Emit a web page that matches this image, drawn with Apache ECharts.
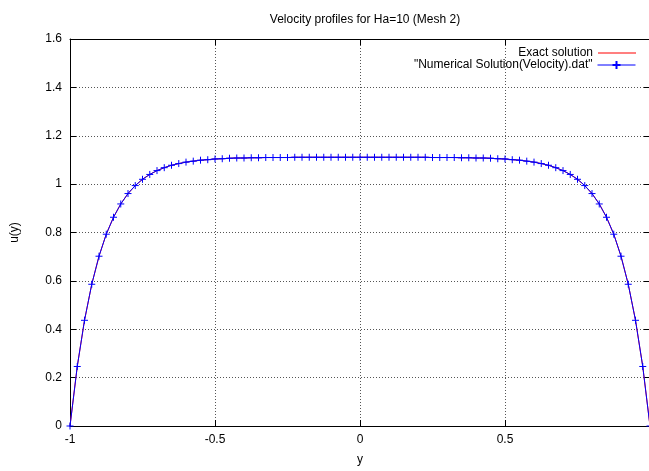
<!DOCTYPE html>
<html><head><meta charset="utf-8">
<script src="https://cdn.jsdelivr.net/npm/echarts@6/dist/echarts.min.js"></script>
<style>html,body{margin:0;padding:0;overflow:hidden;background:#fff;width:649px;height:471px}#c{width:660px;height:471px}</style>
</head><body><div id="c"></div>
<script>
const titleText = 'Velocity profiles for Ha=10 (Mesh 2)';
const yPos = [-1,-0.975,-0.95,-0.925,-0.9,-0.875,-0.85,-0.825,-0.8,-0.775,-0.75,-0.725,-0.7,-0.675,-0.65,-0.625,-0.6,-0.575,-0.55,-0.525,-0.5,-0.475,-0.45,-0.425,-0.4,-0.375,-0.35,-0.325,-0.3,-0.275,-0.25,-0.225,-0.2,-0.175,-0.15,-0.125,-0.1,-0.075,-0.05,-0.025,0,0.025,0.05,0.075,0.1,0.125,0.15,0.175,0.2,0.225,0.25,0.275,0.3,0.325,0.35,0.375,0.4,0.425,0.45,0.475,0.5,0.525,0.55,0.575,0.6,0.625,0.65,0.675,0.7,0.725,0.75,0.775,0.8,0.825,0.85,0.875,0.9,0.925,0.95,0.975,1];
const exactU = [0,0.246,0.437,0.586,0.702,0.793,0.863,0.918,0.961,0.994,1.020,1.040,1.056,1.068,1.078,1.085,1.091,1.095,1.099,1.101,1.104,1.105,1.107,1.108,1.108,1.109,1.109,1.110,1.110,1.110,1.110,1.111,1.111,1.111,1.111,1.111,1.111,1.111,1.111,1.111,1.111,1.111,1.111,1.111,1.111,1.111,1.111,1.111,1.111,1.111,1.110,1.110,1.110,1.110,1.109,1.109,1.108,1.108,1.107,1.105,1.104,1.101,1.099,1.095,1.091,1.085,1.078,1.068,1.056,1.040,1.020,0.994,0.961,0.918,0.863,0.793,0.702,0.586,0.437,0.246,0];
const numericalU = [0,0.246,0.437,0.586,0.702,0.793,0.863,0.918,0.961,0.994,1.020,1.040,1.056,1.068,1.078,1.085,1.091,1.095,1.099,1.101,1.104,1.105,1.107,1.108,1.108,1.109,1.109,1.110,1.110,1.110,1.110,1.111,1.111,1.111,1.111,1.111,1.111,1.111,1.111,1.111,1.111,1.111,1.111,1.111,1.111,1.111,1.111,1.111,1.111,1.111,1.110,1.110,1.110,1.110,1.109,1.109,1.108,1.108,1.107,1.105,1.104,1.101,1.099,1.095,1.091,1.085,1.078,1.068,1.056,1.040,1.020,0.994,0.961,0.918,0.863,0.793,0.702,0.586,0.437,0.246,0];
const xTicks = {min:-1, max:1, interval:0.5};
const yTicks = {min:0, max:1.6, interval:0.2};
const seriesNames = ['Exact solution', '"Numerical Solution(Velocity).dat"'];

const FONT = 'Liberation Sans, Arial, sans-serif';
const chart = echarts.init(document.getElementById('c'), null, {renderer:'canvas'});
const gridLine = {show:true, lineStyle:{color:'#555', type:[1,2], width:1}};
const plus = 'path://M0,5L10,5M5,0L5,10';
const legText = {fontFamily:FONT, fontSize:12, color:'#000'};
chart.setOption({
  animation:false,
  title:{text:titleText, left:360, top:9, textAlign:'center',
    textStyle:{fontFamily:FONT, fontSize:12, fontWeight:'normal', color:'#000'}},
  grid:{left:70, right:10, top:39, bottom:41},
  legend:[
    {data:[{name:seriesNames[0], icon:'rect'}], right:24, top:47, align:'right', itemWidth:38, itemHeight:1,
     textStyle:legText, itemGap:0, padding:0},
    {data:[seriesNames[1]], right:24, top:59, align:'right', itemWidth:38, itemHeight:10,
     lineStyle:{width:1}, textStyle:legText, itemGap:0, padding:0}
  ],
  xAxis:[
    {type:'value', min:xTicks.min, max:xTicks.max, interval:xTicks.interval, position:'bottom',
     name:'y', nameLocation:'middle', nameGap:28,
     nameTextStyle:{fontFamily:FONT, fontSize:12, color:'#000'},
     axisLine:{show:true, onZero:false, lineStyle:{color:'#000', width:1}},
     axisTick:{show:true, inside:true, length:6, lineStyle:{color:'#000'}},
     axisLabel:{fontFamily:FONT, fontSize:12, color:'#000', margin:8, showMaxLabel:false},
     splitLine:gridLine},
    {type:'value', min:xTicks.min, max:xTicks.max, interval:xTicks.interval, position:'top',
     axisLine:{show:true, onZero:false, lineStyle:{color:'#000', width:1}},
     axisTick:{show:true, inside:true, length:6, lineStyle:{color:'#000'}},
     axisLabel:{show:false}, splitLine:{show:false}}
  ],
  yAxis:[
    {type:'value', min:yTicks.min, max:yTicks.max, interval:yTicks.interval, position:'left',
     name:'u(y)', nameLocation:'middle', nameGap:49, nameRotate:90,
     nameTextStyle:{fontFamily:FONT, fontSize:12, color:'#000'},
     axisLine:{show:true, onZero:false, lineStyle:{color:'#000', width:1}},
     axisTick:{show:true, inside:true, length:6, lineStyle:{color:'#000'}},
     axisLabel:{fontFamily:FONT, fontSize:12, color:'#000', margin:8},
     splitLine:gridLine},
    {type:'value', min:yTicks.min, max:yTicks.max, interval:yTicks.interval, position:'right',
     axisLine:{show:true, onZero:false, lineStyle:{color:'#000', width:1}},
     axisTick:{show:true, inside:true, length:6, lineStyle:{color:'#000'}},
     axisLabel:{show:false}, splitLine:{show:false}}
  ],
  series:[
    {name:seriesNames[0], type:'line', xAxisIndex:0, yAxisIndex:0,
     data:yPos.map((x,i)=>[x, exactU[i]]), showSymbol:false, symbol:'none',
     lineStyle:{color:'#ff0000', width:1}, itemStyle:{color:'#ff0000'}},
    {name:seriesNames[1], type:'line', xAxisIndex:0, yAxisIndex:0,
     data:yPos.map((x,i)=>[x, numericalU[i]]), symbol:plus, symbolSize:7, showSymbol:true,
     lineStyle:{color:'#0000ff', width:1},
     itemStyle:{color:'#0000ff', borderColor:'#0000ff', borderWidth:1}}
  ]
});
</script></body></html>
